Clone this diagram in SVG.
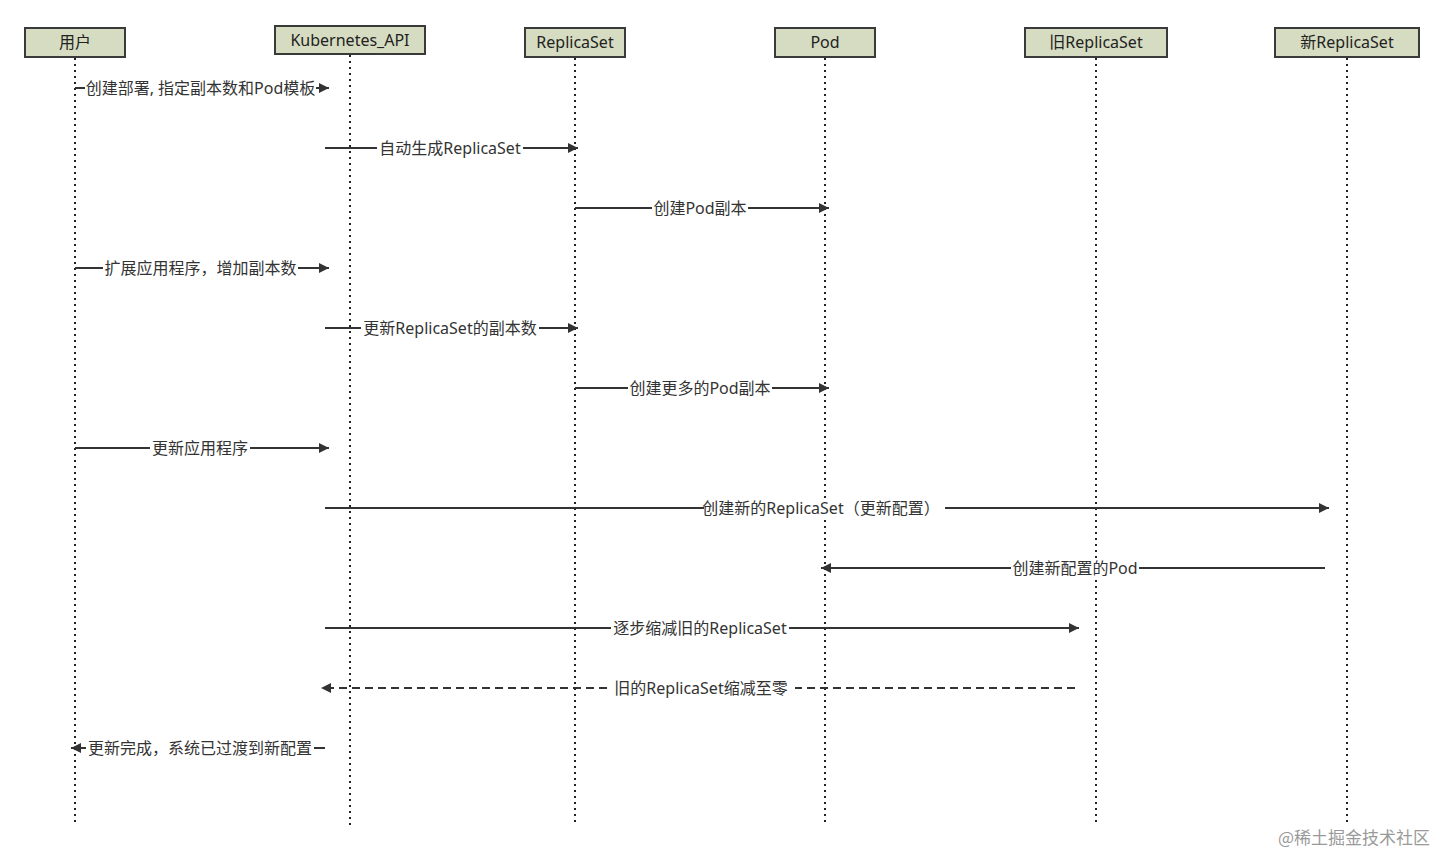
<svg xmlns="http://www.w3.org/2000/svg" width="1444" height="855" viewBox="0 0 1444 855">
<defs>
<style>
.box{fill:#d6dcc1;stroke:#3a3a3a;stroke-width:2}
.ht{font-family:"Noto Sans","Noto Sans CJK SC",sans-serif;font-size:16px;fill:#222;text-anchor:middle}
.life{stroke:#222;stroke-width:2;stroke-dasharray:2,4;fill:none}
.msg{stroke:#333;stroke-width:2;fill:none}
.dash{stroke-dasharray:8,5}
.bg{fill:#fff}
.lbl{font-family:"Noto Sans","Noto Sans CJK SC",sans-serif;font-size:16px;fill:#333;text-anchor:middle}
.wm{font-family:"Noto Sans CJK SC",sans-serif;font-size:17px;fill:#9a9a9a}
</style>
<marker id="ah" viewBox="0 0 10 10" refX="10" refY="5" markerWidth="6" markerHeight="5" markerUnits="strokeWidth" orient="auto">
<path d="M0,0 L10,5 L0,10 z" fill="#333"/>
</marker>
</defs>
<rect width="1444" height="855" fill="#fff"/>
<g id="lifelines">
<line class="life" x1="75" y1="58" x2="75" y2="825"/>
<line class="life" x1="350" y1="55" x2="350" y2="828"/>
<line class="life" x1="575" y1="58" x2="575" y2="825"/>
<line class="life" x1="825" y1="58" x2="825" y2="825"/>
<line class="life" x1="1096" y1="58" x2="1096" y2="825"/>
<line class="life" x1="1347" y1="58" x2="1347" y2="825"/>
</g>
<g id="node-user"><rect class="box" x="25" y="28" width="100" height="29"/><text class="ht" x="75" y="48">用户</text></g>
<g id="node-k8s"><rect class="box" x="275" y="26" width="150" height="28"/><text class="ht" x="350" y="46">Kubernetes_API</text></g>
<g id="node-rs"><rect class="box" x="525" y="28" width="100" height="29"/><text class="ht" x="575" y="48">ReplicaSet</text></g>
<g id="node-pod"><rect class="box" x="775" y="28" width="100" height="29"/><text class="ht" x="825" y="48">Pod</text></g>
<g id="node-oldrs"><rect class="box" x="1025" y="28" width="142" height="29"/><text class="ht" x="1096" y="48">旧ReplicaSet</text></g>
<g id="node-newrs"><rect class="box" x="1275" y="28" width="144" height="29"/><text class="ht" x="1347" y="48">新ReplicaSet</text></g>
<g id="connectors">
<line class="msg" x1="75" y1="88" x2="329" y2="88" marker-end="url(#ah)"/>
<rect class="bg" x="85" y="79" width="231" height="18"/>
<text class="lbl" x="200.5" y="94">创建部署, 指定副本数和Pod模板</text>
<line class="msg" x1="325" y1="148" x2="578" y2="148" marker-end="url(#ah)"/>
<rect class="bg" x="377" y="139" width="146" height="18"/>
<text class="lbl" x="450" y="154">自动生成ReplicaSet</text>
<line class="msg" x1="575" y1="208" x2="829" y2="208" marker-end="url(#ah)"/>
<rect class="bg" x="652" y="199" width="96" height="18"/>
<text class="lbl" x="700" y="214">创建Pod副本</text>
<line class="msg" x1="75" y1="268" x2="329" y2="268" marker-end="url(#ah)"/>
<rect class="bg" x="103" y="259" width="195" height="18"/>
<text class="lbl" x="200.5" y="274">扩展应用程序，增加副本数</text>
<line class="msg" x1="325" y1="328" x2="578" y2="328" marker-end="url(#ah)"/>
<rect class="bg" x="361" y="319" width="178" height="18"/>
<text class="lbl" x="450" y="334">更新ReplicaSet的副本数</text>
<line class="msg" x1="575" y1="388" x2="829" y2="388" marker-end="url(#ah)"/>
<rect class="bg" x="628" y="379" width="144" height="18"/>
<text class="lbl" x="700" y="394">创建更多的Pod副本</text>
<line class="msg" x1="75" y1="448" x2="329" y2="448" marker-end="url(#ah)"/>
<rect class="bg" x="150" y="439" width="100" height="18"/>
<text class="lbl" x="200" y="454">更新应用程序</text>
<line class="msg" x1="325" y1="508" x2="1329" y2="508" marker-end="url(#ah)"/>
<rect class="bg" x="704" y="499" width="241" height="18"/>
<text class="lbl" x="821" y="514">创建新的ReplicaSet（更新配置）</text>
<line class="msg" x1="1325" y1="568" x2="821" y2="568" marker-end="url(#ah)"/>
<rect class="bg" x="1011" y="559" width="128" height="18"/>
<text class="lbl" x="1075" y="574">创建新配置的Pod</text>
<line class="msg" x1="325" y1="628" x2="1079" y2="628" marker-end="url(#ah)"/>
<rect class="bg" x="611" y="619" width="178" height="18"/>
<text class="lbl" x="700" y="634">逐步缩减旧的ReplicaSet</text>
<line class="msg dash" x1="1075" y1="688" x2="321" y2="688" marker-end="url(#ah)"/>
<rect class="bg" x="607" y="679" width="188" height="18"/>
<text class="lbl" x="701" y="694">旧的ReplicaSet缩减至零</text>
<line class="msg" x1="325" y1="748" x2="71" y2="748" marker-end="url(#ah)"/>
<rect class="bg" x="86" y="739" width="228" height="18"/>
<text class="lbl" x="200" y="754">更新完成，系统已过渡到新配置</text>
</g>
<text class="wm" x="1278" y="844">@稀土掘金技术社区</text>
</svg>
